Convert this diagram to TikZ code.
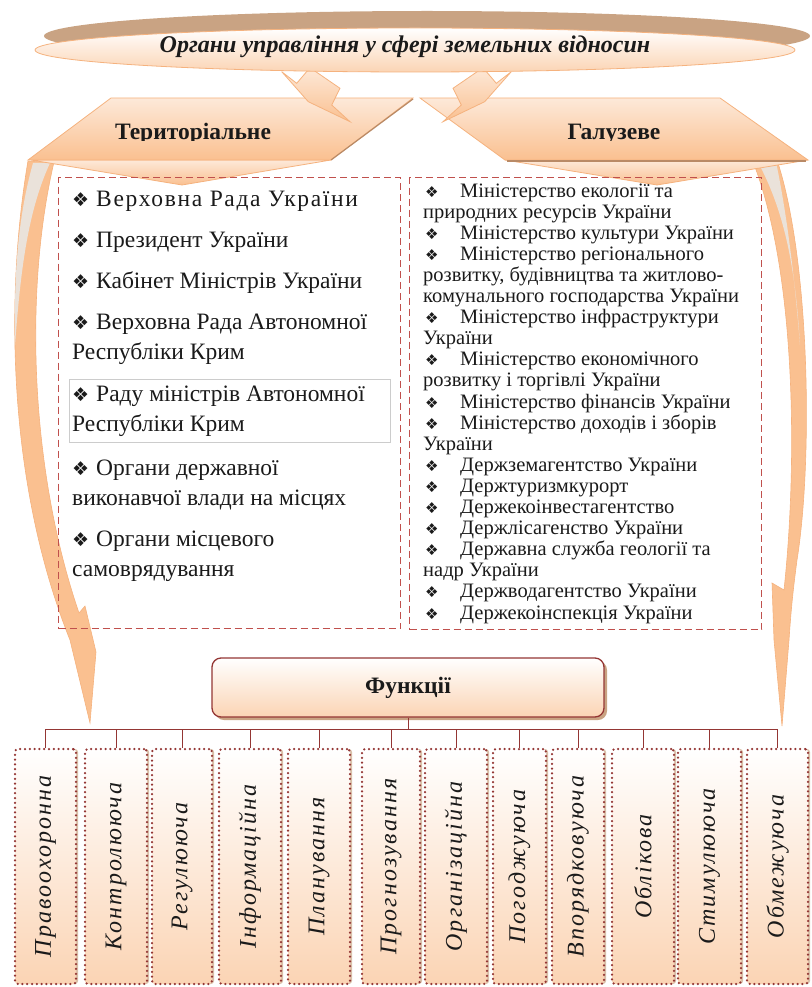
\documentclass[tikz,border=0pt]{standalone}
\usepackage{fontspec}
\setmainfont{Liberation Serif}
\newfontfamily\dejavu{DejaVu Sans}
\usetikzlibrary{shadows}
\definecolor{peachL}{HTML}{FDE9D9}
\definecolor{peachM}{HTML}{FBD4B4}
\definecolor{peachD}{HTML}{FAC090}
\definecolor{peachB}{HTML}{F5B27E}
\definecolor{tanS}{HTML}{C9A383}
\definecolor{greyF}{HTML}{EAE2DA}
\definecolor{dred}{HTML}{943634}
\definecolor{dashred}{HTML}{C0504D}
\definecolor{txt}{HTML}{1A1A1A}
\definecolor{edgeD}{HTML}{B98A66}
\newcommand\myfs[2]{\fontsize{#1}{#2}\selectfont}
\newcommand\lbul{\makebox[24pt][l]{\dejavu\myfs{19}{19}❖}}
\newcommand\rbul{\makebox[37pt][l]{\hspace{2pt}\dejavu\myfs{15}{15}❖}}
\begin{document}
\begin{tikzpicture}[x=1pt,y=-1pt,
  peachfill/.style={top color=peachL, bottom color=peachD, draw=peachB, line width=0.8pt},
  dbox/.style={draw=dashred, line width=1.3pt, dash pattern=on 7pt off 4pt, inner sep=0pt, anchor=north west},
  litem/.style={anchor=base west, align=left, inner sep=0pt, font=\myfs{23.5}{30.5}, text=txt},
  ritem/.style={anchor=base west, align=left, inner sep=0pt, font=\myfs{20.5}{21.1}, text=txt},
  funbox/.style={draw=dred, line width=1.3pt, rounded corners=9pt, top color=white, bottom color=peachM,
    minimum width=392pt, minimum height=59pt, font=\bfseries\myfs{23.5}{23.5}, text=txt,
    drop shadow={shadow xshift=3pt, shadow yshift=-3pt, fill=tanS, opacity=1}},
  fbox/.style={draw=dred, line width=2.5pt, dash pattern=on 0pt off 4.8pt, line cap=round,
    rounded corners=3pt, top color=white, bottom color=peachM, minimum height=235pt, inner sep=0pt,
    drop shadow={shadow xshift=2pt, shadow yshift=0pt, fill=tanS!70, opacity=1}},
  ftext/.style={rotate=90, inner sep=0pt, font=\itshape\myfs{24}{24}\addfontfeature{LetterSpace=8.5}, text=txt},
  conn/.style={draw=dred, line width=1pt},
  cheadtext/.style={font=\bfseries\myfs{23.5}{23.5}, anchor=base, inner sep=0pt, text=txt},
]
\useasboundingbox (0,0) rectangle (811,987);

% ---- curved arrows (behind chevrons)
\path[fill=peachD, draw=peachB, line width=0.6pt]
  (28,161) .. controls (6,290) and (6,480) .. (70,640) -- (90,723) -- (96,652) -- (85,606) -- (79,613)
  .. controls (30,470) and (24,290) .. (54,162) -- cycle;
\path[fill=greyF] (33,163) .. controls (17,220) and (14,280) .. (15,345) .. controls (20,280) and (26,215) .. (50,163) -- cycle;
\path[fill=peachD, draw=peachB, line width=0.6pt]
  (777,160) .. controls (810,260) and (813,460) .. (797,560) .. controls (793,590) and (791,610) .. (789,640)
  -- (782,726) -- (774,640) -- (772,583) -- (784,590) .. controls (797,470) and (797,280) .. (755,167) -- cycle;
\path[fill=greyF] (760,166) .. controls (788,220) and (796,280) .. (800,345) .. controls (794,270) and (786,210) .. (776,162) -- cycle;

% ---- chevrons
\path[peachfill] (31,160) -- (331,160) -- (182,185) -- cycle;
\path[peachfill] (505,160) -- (808,160) -- (657,185) -- cycle;
\path[peachfill] (111,98) -- (413,98) -- (331,160) -- (28,160) -- cycle;
\path[peachfill] (420,98) -- (720,98) -- (808,160) -- (505,160) -- cycle;
\draw[edgeD, line width=1.2pt] (413,99) -- (331,160);
\draw[edgeD, line width=1.2pt] (507,161) -- (806,161);

\begin{scope}
  \clip (0,0) rectangle (811,140.5);
  \node[cheadtext] (terr) at (193,140) {Територіальне};
  \node[cheadtext] (galuz) at (614,140) {Галузеве};
\end{scope}

% ---- block arrows from the ellipse
\path[peachfill] (281.7,71.7) -- (296.7,83.3) -- (310,67.7) -- (340,88.3) -- (331.7,105) -- (350,121.7) -- (308.3,101.7) -- cycle;
\path[peachfill] (511.3,71.7) -- (496.3,83.3) -- (483,67.7) -- (453,88.3) -- (461.3,105) -- (443,121.7) -- (484.7,101.7) -- cycle;

% ---- title ellipse
\fill[tanS] (427,36) ellipse [x radius=383, y radius=25];
\path[top color=white, bottom color=peachM, draw=peachB, line width=0.8pt] (415,50) ellipse [x radius=380, y radius=22];
\node[font=\bfseries\itshape\myfs{24}{24}, text=txt, inner sep=0pt] (title) at (405,47) {Органи управління у сфері земельних відносин};

% ---- dashed boxes
\node[dbox, minimum width=342pt, minimum height=451pt] (lbox) at (58,177) {};
\node[dbox, minimum width=352pt, minimum height=452pt] (rbox) at (409,177) {};
\node[draw=black!20, line width=0.8pt, inner sep=0pt, minimum width=321pt, minimum height=63pt, anchor=north west] (gbox) at (69,379) {};

% ---- left list (node base = baseline of last line)
\node[litem] (l1) at (72,206) {\lbul{\addfontfeature{LetterSpace=7}Верховна Рада України}};
\node[litem] (l2) at (72,247) {\lbul Президент України};
\node[litem] (l3) at (72,288) {\lbul Кабінет Міністрів України};
\node[litem] (l4) at (72,359.5) {\lbul Верховна Рада Автономної\\Республіки Крим};
\node[litem] (l5) at (72,431.5) {\lbul Раду міністрів Автономної\\Республіки Крим};
\node[litem] (l6) at (72,505.5) {\lbul Органи державної\\виконавчої влади на місцях};
\node[litem] (l7) at (72,576.5) {\lbul Органи місцевого\\самоврядування};

% ---- right list (node base = baseline of last line)
\node[ritem] (r1) at (423,218.1) {\rbul Міністерство екології та\\природних ресурсів України};
\node[ritem] (r2) at (423,239.2) {\rbul Міністерство культури України};
\node[ritem] (r3) at (423,302.5) {\rbul Міністерство регіонального\\розвитку, будівництва та житлово-\\комунального господарства України};
\node[ritem] (r4) at (423,344.7) {\rbul Міністерство інфраструктури\\України};
\node[ritem] (r5) at (423,386.9) {\rbul Міністерство економічного\\розвитку і торгівлі України};
\node[ritem] (r6) at (423,408) {\rbul Міністерство фінансів України};
\node[ritem] (r7) at (423,450.2) {\rbul Міністерство доходів і зборів\\України};
\node[ritem] (r8) at (423,471.3) {\rbul Держземагентство України};
\node[ritem] (r9) at (423,492.4) {\rbul Держтуризмкурорт};
\node[ritem] (r10) at (423,513.5) {\rbul Держекоінвестагентство};
\node[ritem] (r11) at (423,534.6) {\rbul Держлісагенство України};
\node[ritem] (r12) at (423,576.8) {\rbul Державна служба геології та\\надр України};
\node[ritem] (r13) at (423,597.9) {\rbul Держводагентство України};
\node[ritem] (r14) at (423,619) {\rbul Держекоінспекція України};

% ---- functions
\node[funbox] (fun) at (408,687.5) {Функції};
\foreach \i/\cx/\w/\t in {1/45.5/61/Правоохоронна, 2/116/62/Контролююча, 3/182/60/Регулююча,
  4/250/62/Інформаційна, 5/319/62/Планування, 6/391/58/Прогнозування, 7/456/62/Організаційна,
  8/519.5/53/Погоджуюча, 9/578/52/Впорядковуюча, 10/643/62/Облікова, 11/709.5/63/Стимулююча,
  12/777.5/61/Обмежуюча} {
  \node[fbox, minimum width=\w pt] (f\i) at (\cx,866.5) {};
  \node[ftext] (t\i) at (f\i.center) {\t};
}
\coordinate (bus) at (408,729);
\draw[conn] (fun.south) -- (fun.south |- bus);
\draw[conn] (f1.north |- bus) -- (f12.north |- bus);
\foreach \i in {1,...,12} \draw[conn] (f\i.north |- bus) -- (f\i.north);
\end{tikzpicture}
\end{document}
